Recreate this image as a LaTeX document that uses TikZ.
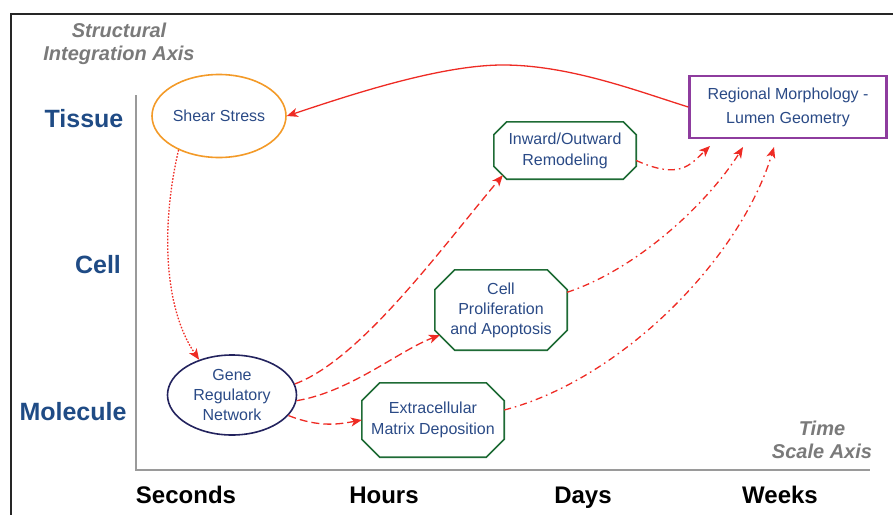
\documentclass[tikz,border=0pt]{standalone}
\usepackage{fontspec}
\setmainfont{Liberation Sans}
\usetikzlibrary{arrows.meta,positioning,calc,shapes.geometric}

\definecolor{lnred}{HTML}{EE2B24}
\definecolor{shorange}{HTML}{F39A28}
\definecolor{genenavy}{HTML}{23235E}
\definecolor{octgreen}{HTML}{1E6B35}
\definecolor{boxpurple}{HTML}{8E3C9E}
\definecolor{lblblue}{HTML}{2A4A86}
\definecolor{lvlblue}{HTML}{1F4B85}
\definecolor{notegray}{HTML}{7A7A7A}
\definecolor{axgray}{HTML}{9A9A9A}

\begin{document}
\begin{tikzpicture}[x=1pt, y=-1pt,
  lvl/.style={font=\fontsize{25}{28}\selectfont\bfseries, text=lvlblue, inner sep=0pt, anchor=base},
  tm/.style={font=\fontsize{24}{28}\selectfont\bfseries, inner sep=0pt, anchor=base},
  axnote/.style={font=\fontsize{20}{23}\selectfont\bfseries\itshape, text=notegray, align=center, inner sep=0pt},
  lbl/.style={font=\fontsize{16}{20}\selectfont, text=lblblue, align=center, inner sep=0pt},
  oval/.style={lbl, ellipse, line width=1.6pt},
  oct/.style={lbl, font=\fontsize{16}{21}\selectfont},
  octln/.style={draw=octgreen, line width=1.6pt, line join=miter},
  arr/.style={draw=lnred, line width=1.3pt, -{Stealth[length=11pt,width=9pt,inset=3pt]}},
  dashln/.style={dash pattern=on 8pt off 4pt},
  dotln/.style={dash pattern=on 1.6pt off 1.6pt},
  dotdash/.style={dash pattern=on 7pt off 4pt on 1.6pt off 4pt}
]
\useasboundingbox (0,0) rectangle (893,514);

% frame and axes
\draw[line width=2.6pt, color=black!85] (11,520) -- (11,14) -- (900,14);
\draw[axgray, line width=1.1pt] (136,95) -- (136,470) -- (870,470);

\node[axnote] (yax) at (119,44) {Structural\\Integration Axis};
\node[axnote] (xax) at (822,440) {Time\\Scale Axis};

\node[lvl] (tissue) at (84,127) {Tissue};
\node[lvl] (cell) at (98,273) {Cell};
\node[lvl] (molec) at (73,420) {Molecule};

\node[tm] (sec) at (186,503) {Seconds};
\node[tm] (hrs) at (384,503) {Hours};
\node[tm] (days) at (583,503) {Days};
\node[tm] (wks) at (780,503) {Weeks};

% processes
\node[oval, draw=shorange, minimum width=134pt, minimum height=83pt] (shear) at (219,116) {Shear Stress};
\node[oval, draw=genenavy, minimum width=129pt, minimum height=80pt] (gene) at (232,395) {Gene\\Regulatory\\Network};

\node[oct, minimum width=142pt, minimum height=57pt] (remod) at (565,150.5) {Inward/Outward\\Remodeling};
\node[oct, minimum width=132pt, minimum height=80pt, font=\fontsize{16}{20}\selectfont] (prolif) at (501,310) {Cell\\Proliferation\\and Apoptosis};
\node[oct, minimum width=142pt, minimum height=74pt] (ecm) at (433,420) {Extracellular\\Matrix Deposition};

% cut corners on the three cell-level boxes
\foreach \n/\c in {remod/13, prolif/20, ecm/18}
  \draw[octln] ($(\n.north west)+(\c,0)$) -- ($(\n.north east)+(-\c,0)$)
    -- ($(\n.north east)+(0,\c)$) -- ($(\n.south east)+(0,-\c)$)
    -- ($(\n.south east)+(-\c,0)$) -- ($(\n.south west)+(\c,0)$)
    -- ($(\n.south west)+(0,-\c)$) -- ($(\n.north west)+(0,\c)$) -- cycle;

\node[lbl, draw=boxpurple, line width=2.4pt, minimum width=197pt, minimum height=62pt,
  font=\fontsize{16}{24}\selectfont] (morph) at (788,107) {Regional Morphology -\\Lumen Geometry};

\coordinate (top) at (503,65);
\coordinate (m1) at (710,146);
\coordinate (m2) at (743,147);
\coordinate (m3) at (774,147);

% feedback and signalling
\draw[arr] (morph.west) .. controls (640,92) and (570,65) .. (top)
  .. controls (440,65) and (350,95) .. (shear.east);
\draw[arr, dotln] (shear.-140) .. controls (160,230) and (165,310) .. (gene.133);

\draw[arr, dashln] (gene.10) .. controls (360,360) and (440,250) .. ($(remod.south west)+(9,-4)$);
\draw[arr, dashln] (gene.-5) .. controls (350,392) and (400,350) .. ($(prolif.south west)+(5,-15)$);
\draw[arr, dashln] (gene.-20) .. controls (320,428) and (340,424) .. (ecm.west);

\draw[arr, dotdash] (remod.-8) .. controls (680,180) and (690,165) .. (m1);
\draw[arr, dotdash] (prolif.15) .. controls (640,268) and (710,200) .. (m2);
\draw[arr, dotdash] (ecm.8) .. controls (620,380) and (740,260) .. (m3);
\end{tikzpicture}
\end{document}
